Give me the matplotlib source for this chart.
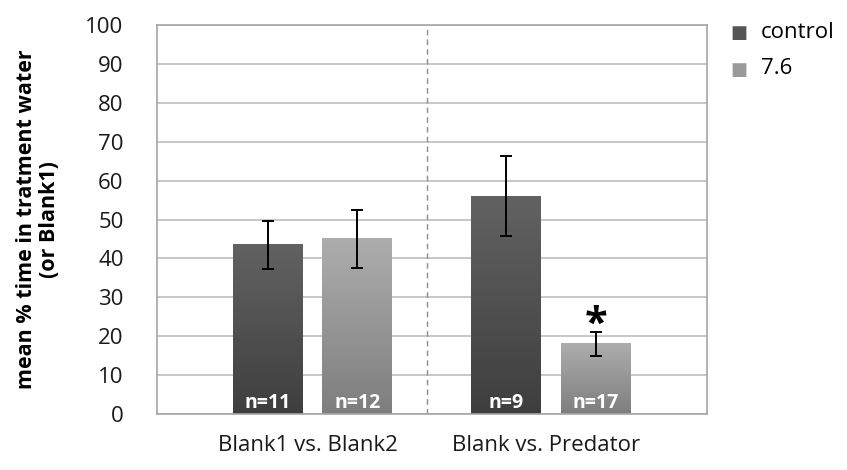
import numpy as np
import matplotlib.pyplot as plt
from matplotlib.colors import LinearSegmentedColormap

# Mean % time and error bars for each comparison
groups = ["Blank1 vs. Blank2", "Blank vs. Predator"]
control_mean = [43.5, 56.0]
control_err = [6.2, 10.2]
treat_mean = [45.0, 18.0]
treat_err = [7.5, 3.0]
control_n = ["n=11", "n=9"]
treat_n = ["n=12", "n=17"]
series_names = ["control", "7.6"]

plt.rcParams['font.family'] = ['Open Sans', 'DejaVu Sans']

fig = plt.figure(figsize=(8.47, 4.70), dpi=100)
ax = fig.add_axes([157 / 847, 1 - 414 / 470, 550 / 847, 389 / 470])

x = np.arange(len(groups))
off = 0.1876
w = 0.293

dark_cmap = LinearSegmentedColormap.from_list("dark", ["#626262", "#3e3e3e"])
light_cmap = LinearSegmentedColormap.from_list("light", ["#adadad", "#7e7e7e"])


def gradient_bars(xs, vals, cmap):
    bars = ax.bar(xs, vals, width=w, color="none", edgecolor="none", zorder=2)
    grad = np.linspace(0, 1, 256).reshape(-1, 1)
    for b in bars:
        x0, y0 = b.get_x(), b.get_y()
        ax.imshow(grad, cmap=cmap, aspect="auto", zorder=2,
                  extent=(x0, x0 + b.get_width(), y0, y0 + b.get_height()))
    return bars


gradient_bars(x - off, control_mean, dark_cmap)
gradient_bars(x + off, treat_mean, light_cmap)

ax.errorbar(x - off, control_mean, yerr=control_err, fmt="none", ecolor="black",
            elinewidth=1.4, capsize=4, capthick=1.4, zorder=3)
ax.errorbar(x + off, treat_mean, yerr=treat_err, fmt="none", ecolor="black",
            elinewidth=1.4, capsize=4, capthick=1.4, zorder=3)

# sample sizes inside the bars
for xi, lab in zip(x - off, control_n):
    ax.text(xi, 2.8, lab, ha="center", va="center", color="white",
            fontsize=14, fontweight="bold", zorder=4)
for xi, lab in zip(x + off, treat_n):
    ax.text(xi, 2.8, lab, ha="center", va="center", color="white",
            fontsize=14, fontweight="bold", zorder=4)

# significance marker
ax.text(x[1] + off, treat_mean[1] + treat_err[1] + 1.8, "*", ha="center",
        va="center", fontsize=30, fontweight="bold", color="black", zorder=4)

ax.axvline(0.48, color="#8c8c8c", linestyle=(0, (4, 3)), linewidth=1, zorder=1)

ax.set_xlim(-0.652, 1.654)
ax.set_ylim(0, 100)
ax.set_yticks(np.arange(0, 101, 10))
ax.set_xticks(x - 0.02)
ax.set_xticklabels(groups, fontsize=16)
ax.tick_params(axis="x", length=0, pad=15, labelcolor="#1a1a1a")
ax.tick_params(axis="y", length=0, labelsize=16, pad=24, labelcolor="#1a1a1a")
ax.yaxis.grid(True, color="#bdbdbd", linewidth=1.2, zorder=0)
ax.set_axisbelow(True)
for s in ax.spines.values():
    s.set_color("#a6a6a6")
    s.set_linewidth(1.2)

ax.set_ylabel("mean % time in tratment water\n(or Blank1)", fontsize=15.5,
              fontweight="bold", labelpad=18, linespacing=1.15)

# legend squares
fig.text(739 / 847, 1 - 33 / 470, "\u25A0", color="#555555", fontsize=13,
         ha="center", va="center")
fig.text(739 / 847, 1 - 70 / 470, "\u25A0", color="#9a9a9a", fontsize=13,
         ha="center", va="center")
fig.text(761 / 847, 1 - 33 / 470, series_names[0], fontsize=16, va="center")
fig.text(761 / 847, 1 - 69 / 470, series_names[1], fontsize=16, va="center")

fig.savefig("out.png", dpi=100)
